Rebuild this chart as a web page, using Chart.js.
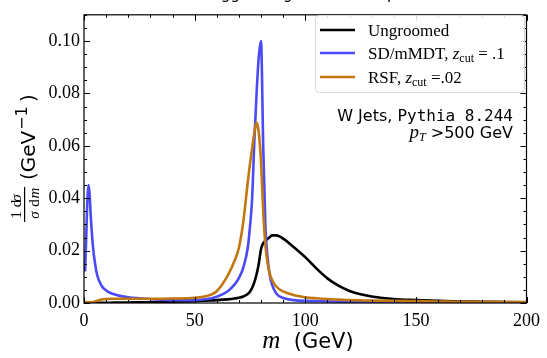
<!DOCTYPE html>
<html>
<head>
<meta charset="utf-8">
<script src="https://cdn.jsdelivr.net/npm/chart.js@4.4.1/dist/chart.umd.min.js"></script>
<style>
  html, body { margin: 0; padding: 0; background: #fff; }
</style>
</head>
<body>
<canvas id="massChart" width="547" height="358"></canvas>
<script>
// jet mass bins (GeV)
const masses = [0.5, 1, 1.5, 2, 2.5, 3, 4, 5, 6, 8, 10, 12, 15, 20, 25, 30, 40, 50, 55, 60,
  65, 68, 70, 72, 74, 75, 76, 77, 78, 79, 80, 81, 82, 83, 84, 85, 87, 90, 95, 100,
  105, 110, 115, 120, 125, 130, 140, 150, 160, 170, 180, 190, 200];

// 1/sigma dsigma/dm (GeV^-1)
const ungroomed = [0, 0, 0, 0, 0, 0, 0, 0.0001, 0.0001, 0.0001, 0.0001, 0.0001, 0.0002, 0.0002, 0.0003, 0.0003, 0.0005, 0.0007, 0.0009, 0.0011,
  0.0014, 0.0017, 0.002, 0.0025, 0.0034, 0.0043, 0.0058, 0.008, 0.011, 0.015, 0.0205, 0.0228, 0.0238, 0.0245, 0.0252, 0.0258, 0.0258, 0.0246, 0.0212, 0.0175,
  0.0132, 0.0094, 0.0066, 0.0046, 0.0033, 0.0025, 0.0015, 0.0011, 0.0008, 0.0006, 0.0005, 0.0004, 0.0003];
const sdMMDT = [0.012, 0.025, 0.039, 0.045, 0.042, 0.034, 0.022, 0.015, 0.0105, 0.0065, 0.0048, 0.0038, 0.003, 0.0022, 0.0018, 0.0015, 0.0011, 0.0011, 0.0014, 0.0024,
  0.0045, 0.007, 0.0095, 0.0135, 0.021, 0.029, 0.04, 0.062, 0.08, 0.094, 0.1, 0.06, 0.029, 0.017, 0.0105, 0.007, 0.0035, 0.0019, 0.0011, 0.0008,
  0.0007, 0.0006, 0.0005, 0.0005, 0.0004, 0.0004, 0.0004, 0.0003, 0.0003, 0.0003, 0.0003, 0.0002, 0.0002];
const rsf = [0.0005, 0.0004, 0.0003, 0.0003, 0.0003, 0.0003, 0.0004, 0.0006, 0.0009, 0.0013, 0.0015, 0.0016, 0.0016, 0.0016, 0.0016, 0.0016, 0.0017, 0.002, 0.0026, 0.0045,
  0.0105, 0.016, 0.021, 0.031, 0.046, 0.053, 0.059, 0.065, 0.069, 0.065, 0.054, 0.035, 0.022, 0.015, 0.011, 0.0088, 0.0062, 0.0044, 0.003, 0.0022,
  0.0018, 0.0015, 0.0013, 0.0011, 0.001, 0.0009, 0.0008, 0.0007, 0.0006, 0.0005, 0.0005, 0.0004, 0.0004];

const xTicks = [0, 50, 100, 150, 200];
const yTicks = [0, 0.02, 0.04, 0.06, 0.08, 0.10];
const titleText = 'Tagged W groomed comparison';

const BLUE = '#4a4af6';
const ORANGE = '#c2770f';
const serif = '"Liberation Serif", "Times New Roman", serif';
const sans = '"DejaVu Sans", sans-serif';
const mono = '"DejaVu Sans Mono", monospace';

const toPoints = (vals) => masses.map((m, i) => ({ x: m, y: vals[i] }));

// draws a run of text pieces with different fonts, returns end x
const drawRun = (ctx, parts, x, y, measureOnly) => {
    let cx = x;
    parts.forEach(p => {
        ctx.font = p.font;
        if (!measureOnly) ctx.fillText(p.t, cx, y + (p.dy || 0));
        cx += ctx.measureText(p.t).width;
    });
    return cx;
};

// inward ticks on all four sides + frame
const frameTicks = {
    id: 'frameTicks',
    afterDraw(chart) {
        const { ctx, chartArea: a, scales: { x, y } } = chart;
        ctx.save();
        ctx.strokeStyle = '#000';
        ctx.lineWidth = 1.2;
        ctx.strokeRect(a.left, a.top, a.right - a.left, a.bottom - a.top);
        ctx.lineWidth = 1;
        ctx.beginPath();
        for (let m = 0; m <= 200; m += 10) {
            const px = Math.round(x.getPixelForValue(m)) + 0.5;
            const len = m % 50 === 0 ? 6 : 3;
            ctx.moveTo(px, a.bottom); ctx.lineTo(px, a.bottom - len);
            ctx.moveTo(px, a.top); ctx.lineTo(px, a.top + len);
        }
        for (let k = 0; k <= 22; k++) {
            const py = Math.round(y.getPixelForValue(k * 0.005)) + 0.5;
            const len = k % 4 === 0 ? 6 : 3;
            ctx.moveTo(a.left, py); ctx.lineTo(a.left + len, py);
            ctx.moveTo(a.right, py); ctx.lineTo(a.right - len, py);
        }
        ctx.stroke();
        ctx.restore();
    }
};

// legend, annotation, axis titles, clipped title
const decorations = {
    id: 'decorations',
    afterDraw(chart) {
        const { ctx } = chart;
        ctx.save();
        ctx.fillStyle = '#000';
        ctx.textBaseline = 'alphabetic';
        ctx.textAlign = 'left';

        // title (mostly above the visible area)
        ctx.font = '15px ' + sans;
        ctx.fillText(titleText, 205, -1);

        // legend box
        ctx.beginPath();
        ctx.roundRect(315.5, 15.5, 209, 77, 4);
        ctx.fillStyle = 'rgba(255,255,255,0.85)';
        ctx.fill();
        ctx.strokeStyle = '#d6d6d6';
        ctx.lineWidth = 1;
        ctx.stroke();

        const rows = [
            { color: '#000', y: 30, parts: [{ t: 'Ungroomed', font: '17px ' + serif }] },
            { color: BLUE, y: 53, parts: [
                { t: 'SD/mMDT, ', font: '17px ' + serif },
                { t: 'z', font: 'italic 17px ' + serif },
                { t: 'cut', font: '12px ' + serif, dy: 3 },
                { t: ' = .1', font: '17px ' + serif }] },
            { color: ORANGE, y: 77, parts: [
                { t: 'RSF, ', font: '17px ' + serif },
                { t: 'z', font: 'italic 17px ' + serif },
                { t: 'cut', font: '12px ' + serif, dy: 3 },
                { t: ' =.02', font: '17px ' + serif }] }
        ];
        rows.forEach(r => {
            ctx.strokeStyle = r.color;
            ctx.lineWidth = 2.6;
            ctx.beginPath();
            ctx.moveTo(320, r.y); ctx.lineTo(355, r.y);
            ctx.stroke();
            ctx.fillStyle = '#000';
            drawRun(ctx, r.parts, 368, r.y + 6);
        });

        // annotation, right aligned
        const line1 = [{ t: 'W Jets, ', font: '16px ' + sans }, { t: 'Pythia 8.244', font: '16px ' + mono }];
        const line2 = [
            { t: 'p', font: 'italic 19px ' + serif },
            { t: 'T', font: 'italic 12px ' + serif, dy: 3 },
            { t: ' >500 GeV', font: '16px ' + sans }];
        const w1 = drawRun(ctx, line1, 0, 0, true);
        drawRun(ctx, line1, 513 - w1, 121);
        const w2 = drawRun(ctx, line2, 0, 0, true);
        drawRun(ctx, line2, 513 - w2, 138);

        // x title
        const xt = [{ t: 'm', font: 'italic 25px ' + serif }, { t: '  (GeV)', font: '21px ' + sans }];
        const wx = drawRun(ctx, xt, 0, 0, true);
        drawRun(ctx, xt, 308 - wx / 2, 348);

        // y title, rotated
        ctx.rotate(-Math.PI / 2);
        ctx.textAlign = 'center';
        ctx.font = '15px ' + serif;
        ctx.fillText('1 d', -209, 21);
        ctx.font = 'italic 15px ' + serif;
        ctx.fillText('σ', -198, 21);
        ctx.fillText('σ', -215, 39);
        ctx.font = '15px ' + serif;
        ctx.fillText('d', -203, 39);
        ctx.font = 'italic 15px ' + serif;
        ctx.fillText('m', -193, 39);
        ctx.fillRect(-222, 24, 35, 1.2);
        ctx.textAlign = 'left';
        ctx.font = '20px ' + sans;
        ctx.fillText('(GeV', -180, 35);
        ctx.font = '16px ' + sans;
        ctx.fillText('\u22121', -130, 27);
        ctx.font = '20px ' + sans;
        ctx.fillText(')', -102, 35);
        ctx.restore();
    }
};

const ctx = document.getElementById('massChart').getContext('2d');
new Chart(ctx, {
    type: 'line',
    data: {
        datasets: [
            { label: 'Ungroomed', data: toPoints(ungroomed), borderColor: '#000', order: 3 },
            { label: 'SD/mMDT, z_cut = .1', data: toPoints(sdMMDT), borderColor: BLUE, order: 2 },
            { label: 'RSF, z_cut =.02', data: toPoints(rsf), borderColor: ORANGE, order: 1 }
        ]
    },
    options: {
        responsive: false,
        animation: false,
        devicePixelRatio: 1,
        layout: { padding: { left: 0, right: 15, top: 7, bottom: 0 } },
        elements: {
            point: { radius: 0 },
            line: { borderWidth: 2.6, cubicInterpolationMode: 'monotone', fill: false }
        },
        plugins: {
            legend: { display: false },
            tooltip: { enabled: false },
            title: { display: false }
        },
        scales: {
            x: {
                type: 'linear',
                min: 0,
                max: 200,
                grid: { display: false, drawTicks: false },
                border: { display: false },
                afterBuildTicks: (s) => { s.ticks = xTicks.map(v => ({ value: v })); },
                afterFit: (s) => { s.height = 55; },
                ticks: {
                    padding: 7,
                    color: '#000',
                    maxRotation: 0,
                    font: { family: serif, size: 18 },
                    callback: (v) => String(v)
                }
            },
            y: {
                min: 0,
                max: 0.11,
                grid: { display: false, drawTicks: false },
                border: { display: false },
                afterBuildTicks: (s) => { s.ticks = yTicks.map(v => ({ value: v })); },
                afterFit: (s) => { s.width = 84; },
                ticks: {
                    padding: 4,
                    color: '#000',
                    font: { family: serif, size: 18 },
                    callback: (v) => v.toFixed(2)
                }
            }
        }
    },
    plugins: [frameTicks, decorations]
});
</script>
</body>
</html>
